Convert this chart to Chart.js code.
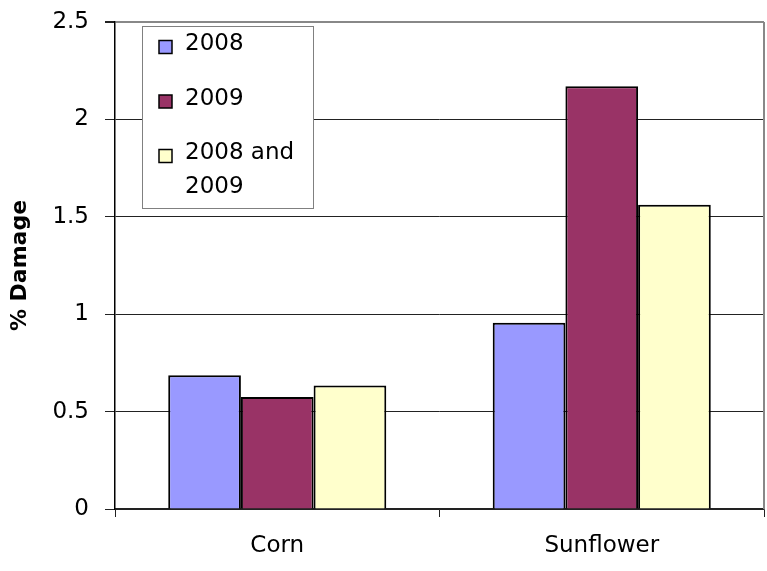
<!DOCTYPE html>
<html>
<head>
<meta charset="utf-8">
<script src="https://cdn.jsdelivr.net/npm/chart.js@4/dist/chart.umd.min.js"></script>
<style>
  html, body { margin: 0; padding: 0; background: #fff; }
  .wrap { width: 767px; height: 571px; position: relative; }
</style>
</head>
<body>
<div class="wrap"><canvas id="damage-chart"></canvas></div>
<script>
const crops = ["Corn", "Sunflower"];
const years2008 = [0.686, 0.956];
const years2009 = [0.575, 2.17];
const yearsBoth = [0.634, 1.562];
const seriesNames = ["2008", "2009", "2008 and 2009"];
const seriesColors = ["#9999ff", "#993366", "#ffffcc"];
const yTickLabels = ["0", "0.5", "1", "1.5", "2", "2.5"];

const FONT = "'DejaVu Sans', 'Liberation Sans', Arial, sans-serif";

// legend drawn as a boxed list inside the plot, like the original
const legendBox = {
  id: "legendBox",
  afterDraw(chart) {
    const { ctx, chartArea } = chart;
    const x = chartArea.left + 27;
    const y = chartArea.top + 4;
    const w = 171, h = 182;
    ctx.save();
    ctx.fillStyle = "#fff";
    ctx.fillRect(x, y, w, h);
    ctx.strokeStyle = "#808080";
    ctx.lineWidth = 1;
    ctx.strokeRect(x + 0.5, y + 0.5, w, h);

    ctx.font = "23px " + FONT;
    ctx.textBaseline = "middle";
    ctx.fillStyle = "#000";
    const maxW = w - 50;
    let cy = y + 18.5;
    chart.data.datasets.forEach((ds) => {
      // wrap the label on words
      const words = ds.label.split(" ");
      const lines = [];
      let line = "";
      words.forEach((wd) => {
        const test = line ? line + " " + wd : wd;
        if (line && ctx.measureText(test).width > maxW) {
          lines.push(line);
          line = wd;
        } else {
          line = test;
        }
      });
      lines.push(line);

      ctx.fillStyle = ds.backgroundColor;
      ctx.fillRect(x + 17, cy - 4, 13, 13);
      ctx.strokeStyle = "#000";
      ctx.lineWidth = 1.5;
      ctx.strokeRect(x + 17, cy - 4, 13, 13);

      ctx.fillStyle = "#000";
      lines.forEach((ln, i) => {
        ctx.fillText(ln, x + 43, cy + i * 33.5);
      });
      cy += 54.5;
    });
    ctx.restore();
  },
};

// gray frame on the right side of the plot
const rightFrame = {
  id: "rightFrame",
  afterDatasetsDraw(chart) {
    const { ctx, chartArea } = chart;
    ctx.save();
    ctx.strokeStyle = "#888";
    ctx.lineWidth = 2;
    ctx.beginPath();
    ctx.moveTo(chartArea.right, chartArea.top);
    ctx.lineTo(chartArea.right, chartArea.bottom);
    ctx.stroke();
    ctx.restore();
  },
};

new Chart(document.getElementById("damage-chart"), {
  type: "bar",
  data: {
    labels: crops,
    datasets: [years2008, years2009, yearsBoth].map((vals, i) => ({
      label: seriesNames[i],
      data: vals,
      backgroundColor: seriesColors[i],
      borderColor: "#000",
      borderWidth: 2,
      categoryPercentage: 0.672,
      barPercentage: 1,
    })),
  },
  options: {
    responsive: true,
    maintainAspectRatio: false,
    animation: false,
    layout: { padding: { top: 22, right: 3, left: 0, bottom: 0 } },
    plugins: {
      legend: { display: false },
      tooltip: { enabled: false },
    },
    scales: {
      x: {
        afterFit: (scale) => { scale.height = 62; },
        grid: {
          offset: true,
          drawOnChartArea: false,
          drawTicks: true,
          tickLength: 8,
          color: "#222",
        },
        border: { color: "#222", width: 1.5 },
        ticks: {
          color: "#000",
          padding: 15,
          font: { family: FONT, size: 23 },
        },
      },
      y: {
        min: 0,
        max: 2.5,
        afterFit: (scale) => {
          scale.width = 115;
          scale.paddingTop = 0;
          scale.paddingBottom = 0;
        },
        afterBuildTicks: (scale) => {
          scale.ticks = yTickLabels.map((t) => ({ value: parseFloat(t) }));
        },
        grid: {
          color: (c) => (c.tick && c.tick.value === 2.5 ? "#888" : "#222"),
          lineWidth: (c) => (c.tick && c.tick.value === 2.5 ? 2 : 1),
          tickLength: 10,
          tickColor: "#222",
        },
        border: { color: "#000", width: 1.5 },
        ticks: {
          color: "#000",
          padding: 16,
          font: { family: FONT, size: 23 },
          callback: (v, i) => yTickLabels[i],
        },
        title: {
          display: true,
          text: "% Damage",
          color: "#000",
          padding: { top: 7, bottom: 0 },
          font: { family: FONT, size: 22, weight: "bold" },
        },
      },
    },
  },
  plugins: [legendBox, rightFrame],
});
</script>
</body>
</html>
